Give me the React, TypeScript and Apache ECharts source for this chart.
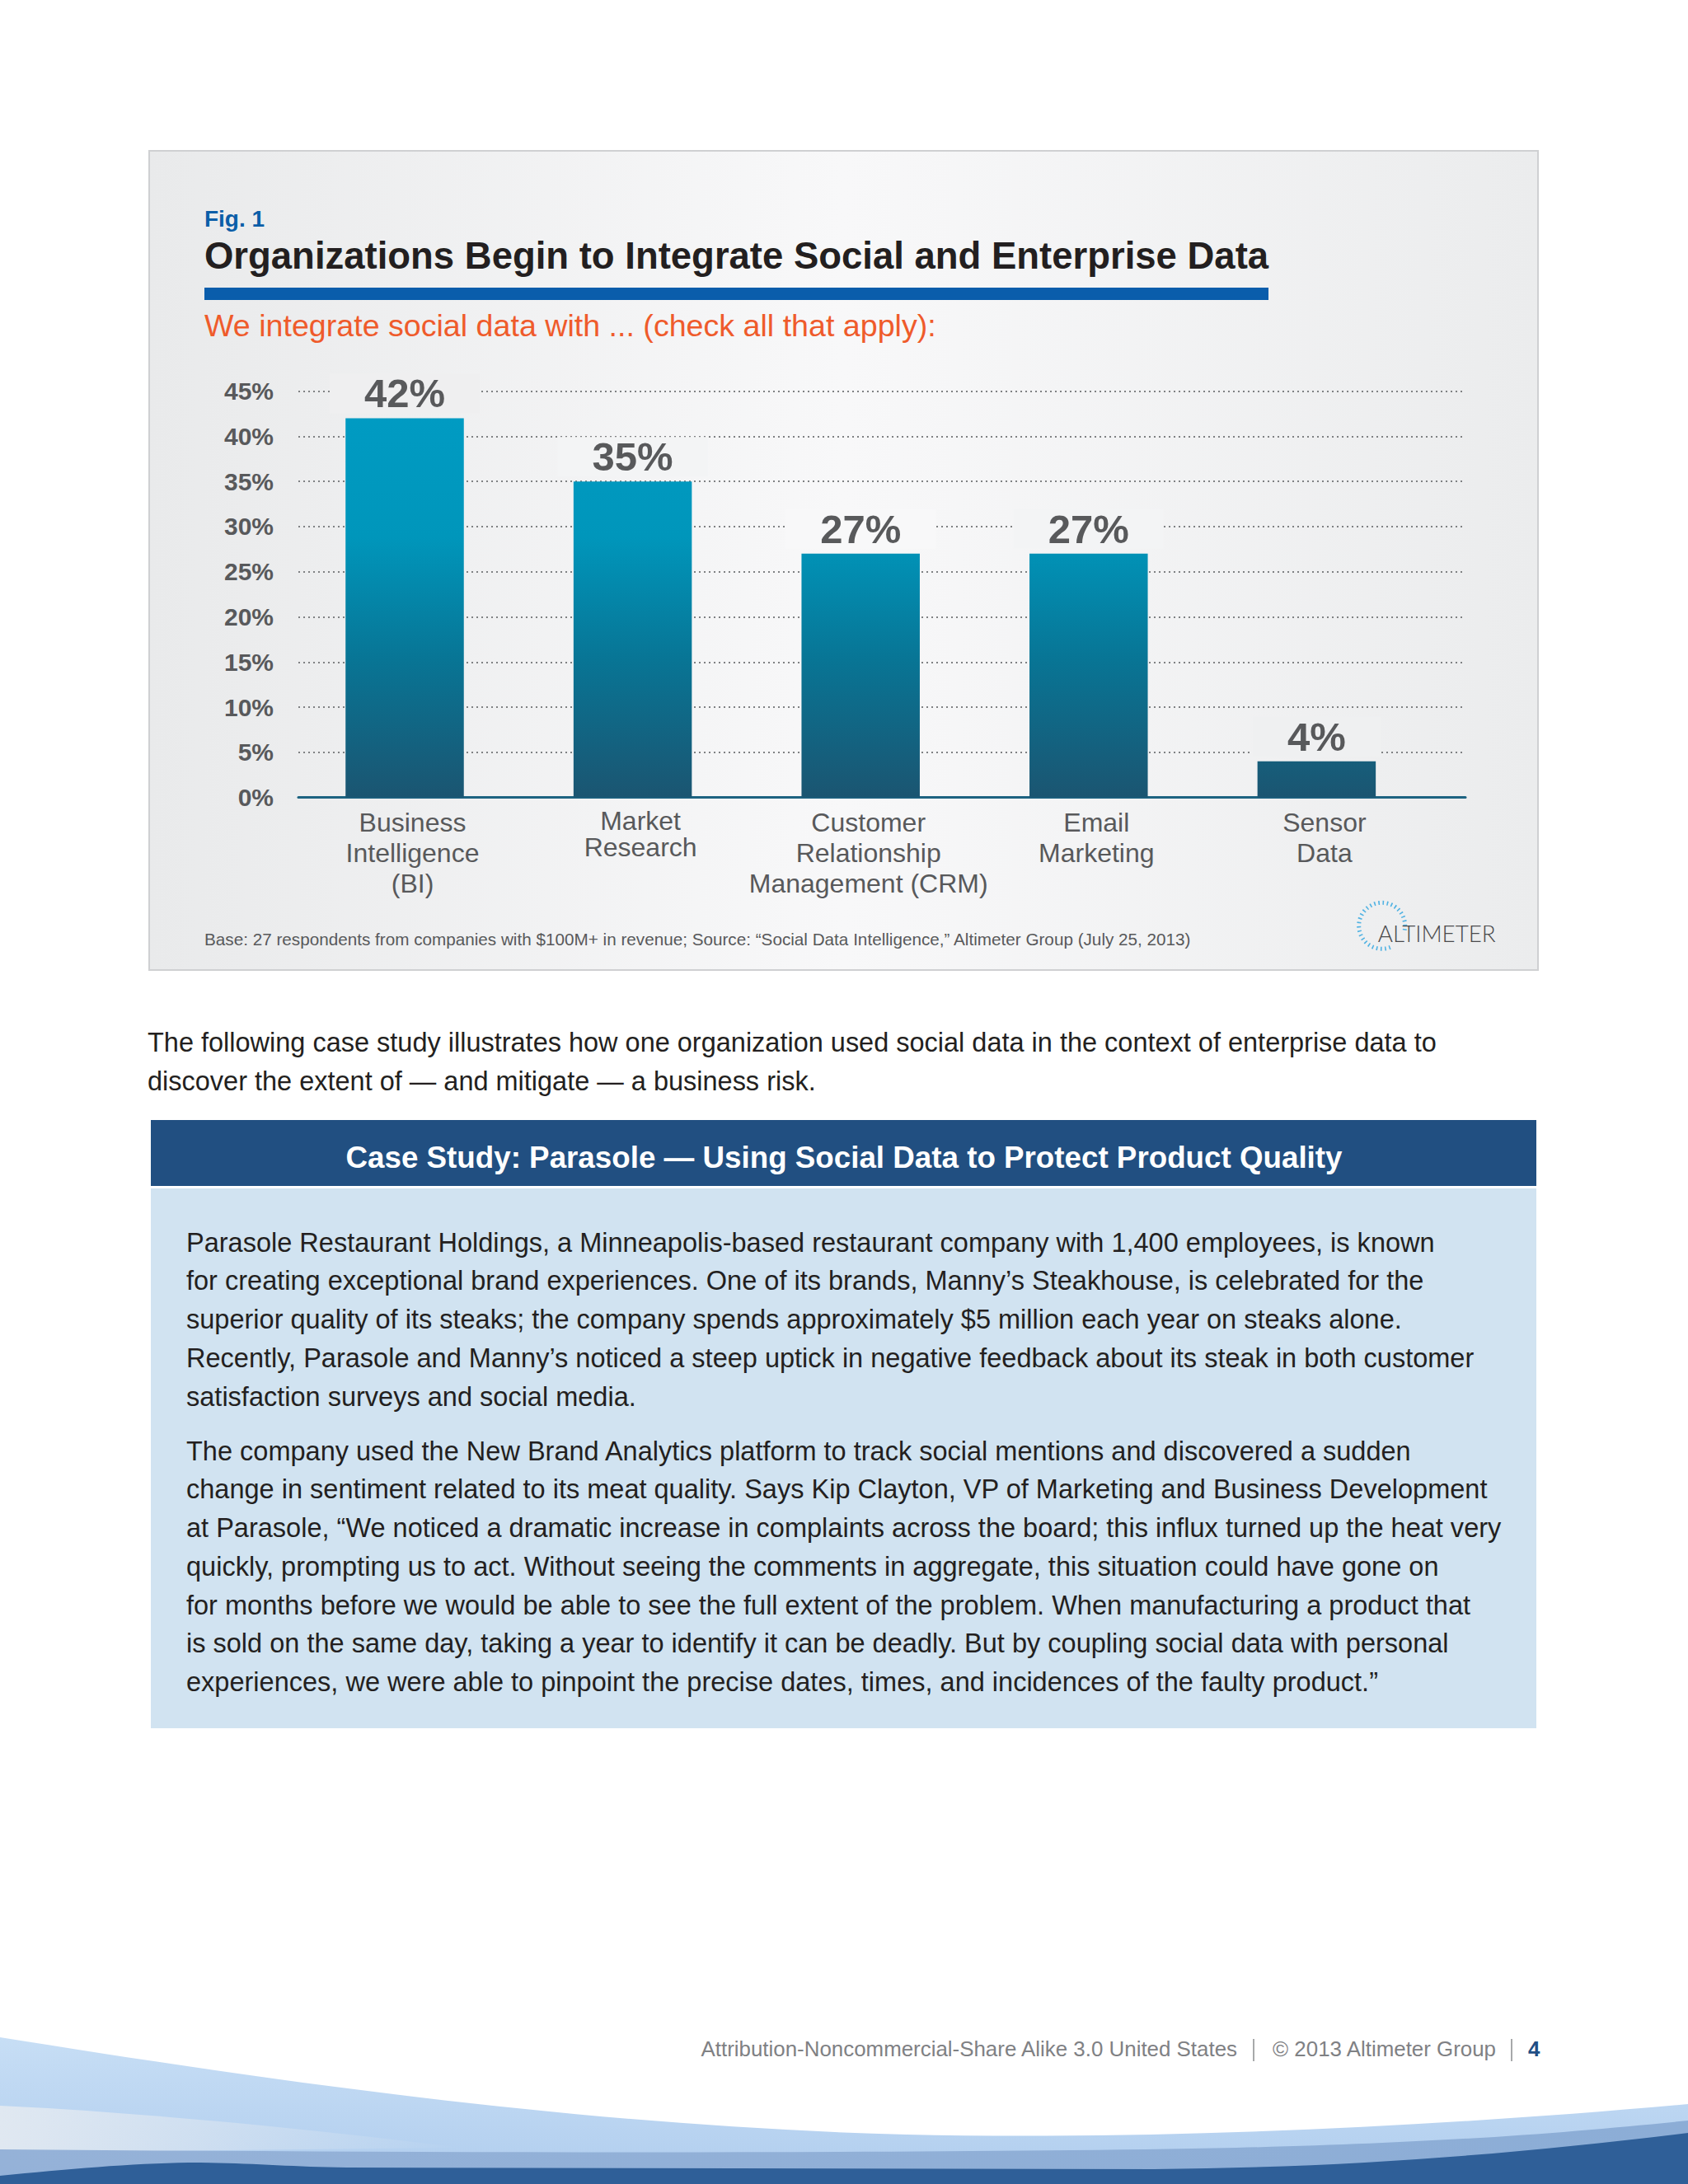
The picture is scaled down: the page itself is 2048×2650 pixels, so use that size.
import React, { useEffect, useRef } from "react";
import * as echarts from "echarts";

// ---------- data ----------
const categories = [
  "Business\nIntelligence\n(BI)",
  "Market\nResearch",
  "Customer\nRelationship\nManagement (CRM)",
  "Email\nMarketing",
  "Sensor\nData",
];
const values = [42, 35, 27, 27, 4];
const yMin = 0;
const yMax = 45;
const yStep = 5;

const figLabel = "Fig. 1";
const chartTitle = "Organizations Begin to Integrate Social and Enterprise Data";
const chartSubtitle = "We integrate social data with ... (check all that apply):";
const baseNote =
  "Base: 27 respondents from companies with $100M+ in revenue; Source: \u201cSocial Data Intelligence,\u201d Altimeter Group (July 25, 2013)";
const logoText = "ALTIMETER";

const introLines = [
  "The following case study illustrates how one organization used social data in the context of enterprise data to",
  "discover the extent of \u2014 and mitigate \u2014 a business risk.",
];
const caseTitle = "Case Study: Parasole \u2014 Using Social Data to Protect Product Quality";
const para1 = [
  "Parasole Restaurant Holdings, a Minneapolis-based restaurant company with 1,400 employees, is known",
  "for creating exceptional brand experiences. One of its brands, Manny\u2019s Steakhouse, is celebrated for the",
  "superior quality of its steaks; the company spends approximately $5 million each year on steaks alone.",
  "Recently, Parasole and Manny\u2019s noticed a steep uptick in negative feedback about its steak in both customer",
  "satisfaction surveys and social media.",
];
const para2 = [
  "The company used the New Brand Analytics platform to track social mentions and discovered a sudden",
  "change in sentiment related to its meat quality. Says Kip Clayton, VP of Marketing and Business Development",
  "at Parasole, \u201cWe noticed a dramatic increase in complaints across the board; this influx turned up the heat very",
  "quickly, prompting us to act. Without seeing the comments in aggregate, this situation could have gone on",
  "for months before we would be able to see the full extent of the problem. When manufacturing a product that",
  "is sold on the same day, taking a year to identify it can be deadly. But by coupling social data with personal",
  "experiences, we were able to pinpoint the precise dates, times, and incidences of the faulty product.\u201d",
];
const footerLicense = "Attribution-Noncommercial-Share Alike 3.0 United States";
const footerCopy = "\u00a9 2013 Altimeter Group";
const pageNo = "4";

// ---------- helpers ----------
const FONT = "Liberation Sans";
const GRAY = "#58595b";

let measureCtx: CanvasRenderingContext2D | null = null;
function fit(text: string, width: number, weight = "normal", family = FONT) {
  if (!measureCtx) measureCtx = document.createElement("canvas").getContext("2d");
  if (!measureCtx) return 30;
  measureCtx.font = `${weight} 100px "${family}"`;
  const w = measureCtx.measureText(text).width;
  return Math.round((10000 * width) / w) / 100;
}

function txt(
  text: string,
  x: number,
  baseline: number,
  size: number,
  fill: string,
  weight: string = "normal",
  align: string = "left",
  family: string = FONT
) {
  return {
    type: "text",
    x,
    y: baseline - 0.3465 * size,
    z: 10,
    style: {
      text,
      fill,
      fontSize: size,
      fontFamily: family,
      fontWeight: weight,
      align,
      verticalAlign: "middle",
    },
  };
}

let shapesRegistered = false;
function registerShapes() {
  if (shapesRegistered) return;
  shapesRegistered = true;
  echarts.graphic.registerShape(
    "waveLight",
    echarts.graphic.extendPath(
      "M0,2472 C300,2520 700,2580 1100,2590 C1400,2597 1750,2580 2048,2553 L2048,2650 L0,2650 Z",
      {}
    )
  );
  echarts.graphic.registerShape(
    "waveWhite",
    echarts.graphic.extendPath("M0,2555 C150,2562 350,2580 560,2606 L0,2612 Z", {})
  );
  echarts.graphic.registerShape(
    "waveMid",
    echarts.graphic.extendPath(
      "M0,2608 C500,2612 1100,2614 1500,2606 C1750,2600 1900,2588 2048,2573 L2048,2650 L0,2650 Z",
      {}
    )
  );
  echarts.graphic.registerShape(
    "waveDark",
    echarts.graphic.extendPath(
      "M0,2640 C80,2632 160,2625 229,2624 C300,2624 350,2629 420,2630 L1400,2632 C1650,2630 1850,2612 2048,2588 L2048,2650 L0,2650 Z",
      {}
    )
  );
}

// chart box background stops (horizontal)
const BOX = { x: 181, y: 183, w: 1685, h: 994 };
const boxStops = [
  { offset: 0, color: [233, 234, 235] },
  { offset: 0.5, color: [248, 248, 249] },
  { offset: 1, color: [235, 236, 237] },
];
function bgAt(x: number) {
  const t = Math.min(1, Math.max(0, (x - BOX.x) / BOX.w));
  let a = boxStops[0];
  let b = boxStops[boxStops.length - 1];
  for (let i = 0; i < boxStops.length - 1; i++) {
    if (t >= boxStops[i].offset && t <= boxStops[i + 1].offset) {
      a = boxStops[i];
      b = boxStops[i + 1];
      break;
    }
  }
  const k = (t - a.offset) / (b.offset - a.offset || 1);
  const c = a.color.map((v, i) => Math.round(v + (b.color[i] - v) * k));
  return `rgb(${c[0]},${c[1]},${c[2]})`;
}

function buildOption() {
  registerShapes();

  // plot geometry
  const plotTop = 474.6;
  const plotH = 493;
  const axisLeft = 362;
  const axisRight = 1778;
  const bandLeft = 352.7;
  const band = 276.6;
  const barW = 143.5;

  const titleFs = fit(chartTitle, 1291, "bold");
  const figFs = fit(figLabel, 73, "bold");
  const subFs = fit(chartSubtitle, 888);
  const baseFs = fit(baseNote, 1198);
  const introFs = fit(introLines[0], 1564);
  const caseFs = fit(caseTitle, 1209, "bold");
  const paraFs = fit(para1[3], 1563);
  const footFs = fit(footerLicense, 652);
  const logoFs = fit(logoText, 143, "300", "Lato");

  const graphics: any[] = [];
  // chart box
  graphics.push({
    type: "rect",
    z: -10,
    shape: { x: BOX.x, y: BOX.y, width: BOX.w, height: BOX.h },
    style: {
      fill: new echarts.graphic.LinearGradient(
        0,
        0,
        1,
        0,
        boxStops.map((s) => ({ offset: s.offset, color: `rgb(${s.color.join(",")})` }))
      ),
      stroke: "#cfd0d2",
      lineWidth: 2,
    },
  });
  graphics.push(txt(figLabel, 248, 275, figFs, "#0b5ea8", "bold"));
  graphics.push(txt(chartTitle, 248, 326, titleFs, "#231f20", "bold"));
  graphics.push({
    type: "rect",
    z: 5,
    shape: { x: 248, y: 349, width: 1291, height: 15 },
    style: { fill: "#0a5dab" },
  });
  graphics.push(txt(chartSubtitle, 248, 408, subFs, "#ef5b2b"));
  graphics.push(txt(baseNote, 248, 1146.7, baseFs, GRAY));

  // logo
  graphics.push({
    type: "arc",
    z: 5,
    shape: {
      cx: 1676.7,
      cy: 1123.3,
      r: 28,
      startAngle: (69 * Math.PI) / 180,
      endAngle: ((360 + 14) * Math.PI) / 180,
      clockwise: true,
    },
    style: { stroke: "#4fb2e3", lineWidth: 5, lineDash: [1.6, 3.6], fill: null },
  });
  graphics.push(txt(logoText, 1671.7, 1141.7, logoFs, "#4a4a4c", "300", "left", "Lato"));

  // intro paragraph
  introLines.forEach((l, i) => graphics.push(txt(l, 179, 1276 + i * 47, introFs, "#231f20")));

  // case study
  graphics.push({
    type: "rect",
    z: -10,
    shape: { x: 183, y: 1359, width: 1681, height: 80 },
    style: { fill: "#214f81" },
  });
  graphics.push(txt(caseTitle, 1024, 1417, caseFs, "#ffffff", "bold", "center"));
  graphics.push({
    type: "rect",
    z: -10,
    shape: { x: 183, y: 1442, width: 1681, height: 655 },
    style: { fill: "#d1e3f1" },
  });
  para1.forEach((l, i) => graphics.push(txt(l, 226, 1519 + i * 46.7, paraFs, "#231f20")));
  para2.forEach((l, i) => graphics.push(txt(l, 226, 1772 + i * 46.75, paraFs, "#231f20")));

  // wave
  graphics.push({
    type: "waveLight",
    z: -10,
    x: 0,
    y: 0,
    style: {
      fill: new echarts.graphic.LinearGradient(0, 0, 0, 1, [
        { offset: 0, color: "#c7def5" },
        { offset: 1, color: "#b0cdee" },
      ]),
    },
  });
  graphics.push({
    type: "waveWhite",
    z: -9,
    x: 0,
    y: 0,
    style: {
      fill: new echarts.graphic.LinearGradient(0, 0, 1, 0, [
        { offset: 0, color: "rgba(224,232,241,1)" },
        { offset: 1, color: "rgba(224,232,241,0)" },
      ]),
    },
  });
  graphics.push({
    type: "waveMid",
    z: -8,
    x: 0,
    y: 0,
    style: {
      fill: new echarts.graphic.LinearGradient(0, 0, 1, 0, [
        { offset: 0, color: "#95b2d8" },
        { offset: 1, color: "#8cadd6" },
      ]),
    },
  });
  graphics.push({
    type: "waveDark",
    z: -7,
    x: 0,
    y: 0,
    style: { fill: "#2f5f98" },
  });

  // footer
  graphics.push(txt(footerLicense, 1501, 2495, footFs, "#7f8184", "normal", "right"));
  graphics.push({
    type: "line",
    z: 5,
    shape: { x1: 1521, y1: 2474, x2: 1521, y2: 2501 },
    style: { stroke: "#8a8c8e", lineWidth: 1.5 },
  });
  graphics.push(txt(footerCopy, 1815, 2495, footFs, "#7f8184", "normal", "right"));
  graphics.push({
    type: "line",
    z: 5,
    shape: { x1: 1834, y1: 2474, x2: 1834, y2: 2501 },
    style: { stroke: "#8a8c8e", lineWidth: 1.5 },
  });
  graphics.push(txt(pageNo, 1854, 2495, footFs, "#1f4e85", "bold"));

  const barGradient = new echarts.graphic.LinearGradient(
    0,
    plotTop,
    0,
    plotTop + plotH,
    [
      { offset: 0, color: "#009cc4" },
      { offset: 0.36, color: "#0096bb" },
      { offset: 0.66, color: "#087595" },
      { offset: 1, color: "#1b5571" },
    ],
    true
  );

  return {
    animation: false,
    backgroundColor: "#ffffff",
    graphic: graphics,
    grid: [
      { left: axisLeft, top: plotTop, width: axisRight - axisLeft, height: plotH },
      { left: bandLeft, top: plotTop, width: band * categories.length, height: plotH },
    ],
    xAxis: [
      {
        type: "value",
        gridIndex: 0,
        min: 0,
        max: 1,
        axisLine: { show: true, lineStyle: { color: "#1d6381", width: 3 } },
        axisTick: { show: false },
        axisLabel: { show: false },
        splitLine: { show: false },
      },
      {
        type: "category",
        gridIndex: 1,
        data: categories.map((c, i) =>
          i === 1 ? { value: c, textStyle: { lineHeight: 32 } } : c
        ),
        axisLine: { show: false },
        axisTick: { show: false },
        axisLabel: {
          interval: 0,
          margin: 12,
          color: GRAY,
          fontSize: 32,
          lineHeight: 37,
          fontFamily: FONT,
          padding: [0, 0, 0, 19],
        },
      },
    ],
    yAxis: [
      {
        type: "value",
        gridIndex: 0,
        min: yMin,
        max: yMax,
        interval: yStep,
        axisLine: { show: false },
        axisTick: { show: false },
        axisLabel: {
          formatter: "{value}%",
          margin: 30,
          color: GRAY,
          fontSize: 30,
          fontWeight: "bold",
          fontFamily: FONT,
        },
        splitLine: { show: true, lineStyle: { color: "#7f8183", width: 2, type: [2, 4] } },
      },
      {
        type: "value",
        gridIndex: 1,
        min: yMin,
        max: yMax,
        interval: yStep,
        show: false,
        splitLine: { show: false },
      },
    ],
    series: [
      {
        type: "bar",
        xAxisIndex: 1,
        yAxisIndex: 1,
        barWidth: barW,
        z: 3,
        itemStyle: { color: barGradient },
        data: values.map((v, i) => ({
          value: v,
          label: { backgroundColor: bgAt(bandLeft + band * (i + 0.5)) },
        })),
        label: {
          show: true,
          position: "top",
          distance: 6,
          formatter: "{c}%",
          color: GRAY,
          fontSize: 49,
          lineHeight: 48,
          fontWeight: "bold",
          fontFamily: FONT,
          padding: [0, 42],
        },
      },
    ],
  };
}

export default function App() {
  const ref = useRef<HTMLDivElement>(null);
  useEffect(() => {
    if (!ref.current) return;
    const chart = echarts.init(ref.current, null, { renderer: "svg", width: 2048, height: 2650 });
    chart.setOption(buildOption() as any);
    return () => chart.dispose();
  }, []);
  return (
    <div
      ref={ref}
      style={{ position: "absolute", left: 0, top: 0, width: 2048, height: 2650, background: "#ffffff" }}
    />
  );
}
